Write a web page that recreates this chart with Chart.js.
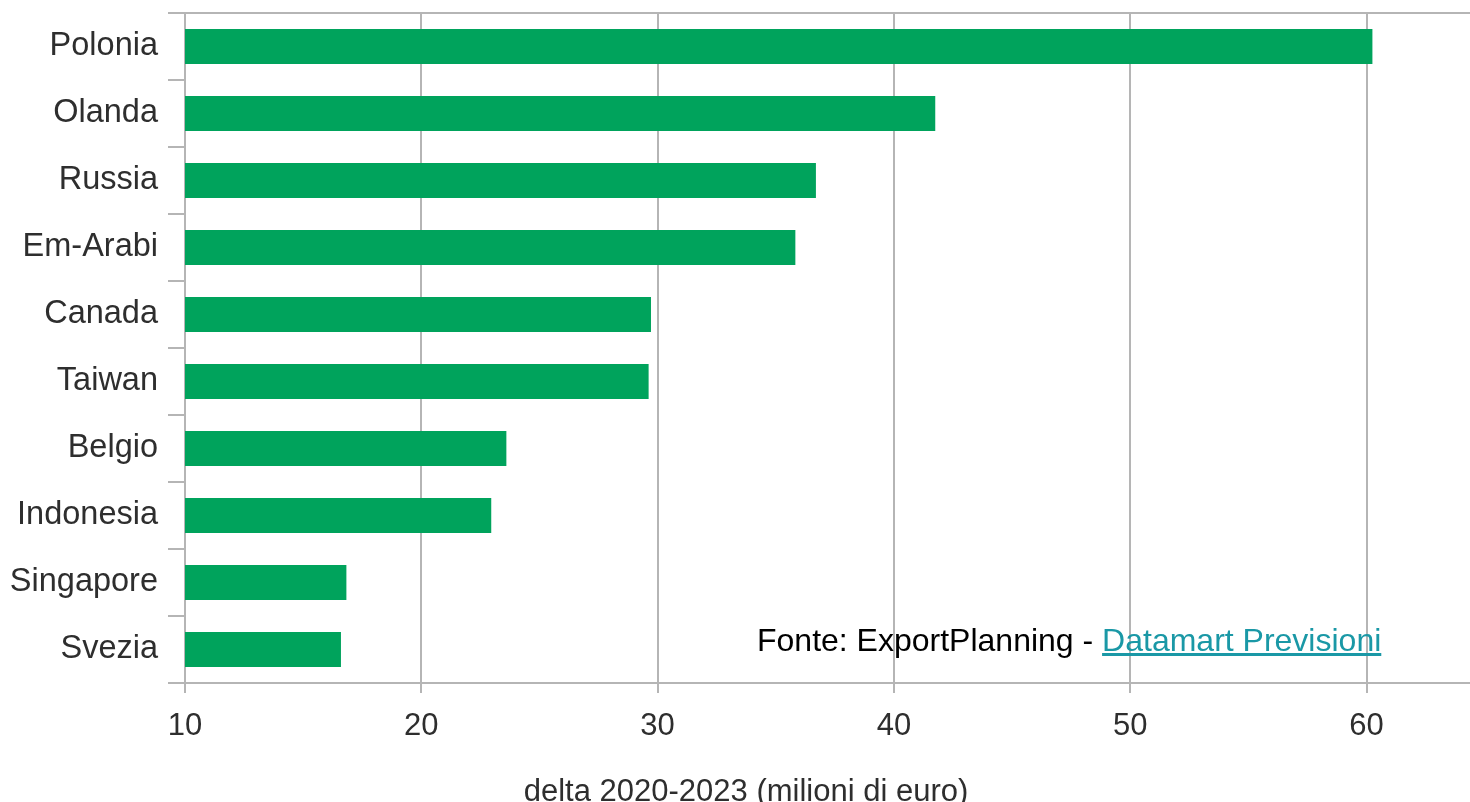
<!DOCTYPE html>
<html>
<head>
<meta charset="utf-8">
<script src="https://cdn.jsdelivr.net/npm/chart.js@4/dist/chart.umd.min.js"></script>
<style>
  html, body { margin: 0; padding: 0; background: #fff; }
  #wrap { position: relative; width: 1470px; height: 802px; overflow: hidden; }
  #source {
    position: absolute; left: 757px; top: 624px;
    font: 32px "Liberation Sans", Arial, sans-serif; line-height: 32px;
    color: #000; white-space: nowrap;
  }
  #source a { color: #1a98a6; text-decoration: underline; }
</style>
</head>
<body>
<div id="wrap">
  <canvas id="chart" width="1470" height="802"></canvas>
  <div id="source">Fonte: ExportPlanning - <a href="#">Datamart Previsioni</a></div>
</div>
<script>
const countries = ["Polonia", "Olanda", "Russia", "Em-Arabi", "Canada", "Taiwan", "Belgio", "Indonesia", "Singapore", "Svezia"];
const deltaValues = [60.25, 41.75, 36.7, 35.83, 29.72, 29.62, 23.6, 22.96, 16.83, 16.6];
const xMin = 10;
const xMax = 64.38;
const xStep = 10;
const axisTitle = "delta 2020-2023 (milioni di euro)";

const gridGrey = "#b5b5b5";
const textGrey = "#2e2e2e";
const family = "'Liberation Sans', Arial, sans-serif";

new Chart(document.getElementById("chart"), {
  type: "bar",
  data: {
    labels: countries,
    datasets: [{
      data: deltaValues,
      backgroundColor: "#00a35c",
      borderWidth: 0,
      barPercentage: 0.52,
      categoryPercentage: 1
    }]
  },
  options: {
    indexAxis: "y",
    responsive: false,
    animation: false,
    // negative right padding moves the bottom title a bit right, like the original
    layout: { padding: { top: 13, right: -22, bottom: 0, left: 0 } },
    plugins: {
      legend: { display: false },
      tooltip: { enabled: false },
      title: {
        display: true,
        position: "bottom",
        text: axisTitle,
        color: textGrey,
        font: { family: family, size: 31, weight: "normal", lineHeight: 0.6 },
        padding: 0
      }
    },
    scales: {
      x: {
        min: xMin,
        max: xMax,
        ticks: { stepSize: xStep, includeBounds: false, color: textGrey, font: { family: family, size: 31 }, padding: 15 },
        grid: { color: gridGrey, lineWidth: 2, tickLength: 10 },
        border: { color: gridGrey, width: 2 },
        afterFit: (scale) => { scale.height = 100.4; }
      },
      y: {
        offset: true,
        ticks: { color: textGrey, font: { family: family, size: 32.5 }, padding: 10 },
        grid: {
          offset: true,
          lineWidth: 2,
          tickLength: 17,
          tickColor: gridGrey,
          color: (ctx) => (ctx.index === 0 ? gridGrey : "rgba(0,0,0,0)")
        },
        border: { color: gridGrey, width: 2 },
        afterFit: (scale) => {
          scale.width = 185;
          scale.paddingTop = 0;
          scale.paddingBottom = 0;
        }
      }
    }
  }
});
</script>
</body>
</html>
